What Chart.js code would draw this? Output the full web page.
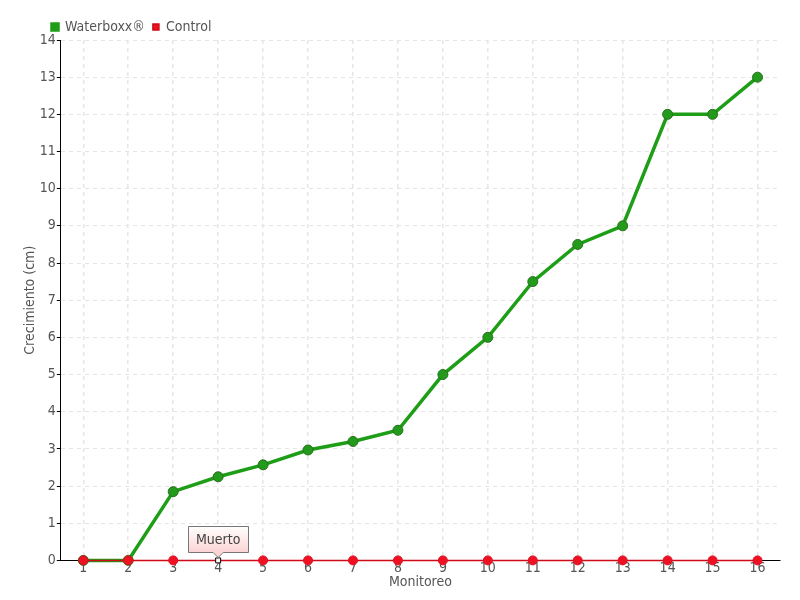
<!DOCTYPE html>
<html>
<head>
<meta charset="utf-8">
<script src="https://cdn.jsdelivr.net/npm/chart.js@4/dist/chart.umd.min.js"></script>
<style>
  html, body { margin: 0; padding: 0; background: #fff; }
  canvas { display: block; }
</style>
</head>
<body>
<canvas id="grafico" width="800" height="600"></canvas>
<script>
const monitoreos = ["1", "2", "3", "4", "5", "6", "7", "8", "9", "10", "11", "12", "13", "14", "15", "16"];
const waterboxx = [0, 0, 1.85, 2.25, 2.57, 2.97, 3.2, 3.5, 5, 6, 7.5, 8.5, 9, 12, 12, 13];
const control = [0, 0, 0, 0, 0, 0, 0, 0, 0, 0, 0, 0, 0, 0, 0, 0];
const indiceMuerto = 3;
const textoMuerto = "Muerto";

const FUENTE = "'DejaVu Sans', sans-serif";
const GRIS = "#555";

// la fuente del original es angosta: se pide la variante condensada
function fuente(tam) {
  return { family: FUENTE, size: tam, weight: "condensed" };
}

// corre la leyenda hacia la derecha, como en el original
const moverLeyenda = {
  id: "moverLeyenda",
  afterLayout(chart) {
    if (chart.legend) {
      chart.legend.left += 22;
      chart.legend.right += 22;
      chart.legend.top += 4;
      chart.legend.bottom += 4;
    }
  }
};

const etiquetaMuerto = {
  id: "etiquetaMuerto",
  afterDatasetsDraw(chart) {
    const meta = chart.getDatasetMeta(1);
    const punto = meta.data[indiceMuerto];
    if (!punto) return;
    const ctx = chart.ctx;
    ctx.save();
    ctx.font = "condensed 14px " + FUENTE;
    const ancho = 60;
    const alto = 26;
    const x = Math.round(punto.x - ancho / 2);
    const y = Math.round(punto.y - 8 - alto);

    const grad = ctx.createLinearGradient(0, y, 0, y + alto);
    grad.addColorStop(0, "#ffffff");
    grad.addColorStop(1, "#fbd4d4");
    ctx.fillStyle = grad;
    ctx.strokeStyle = "#777";
    ctx.lineWidth = 1;
    ctx.beginPath();
    ctx.moveTo(x + 0.5, y + 0.5);
    ctx.lineTo(x + ancho + 0.5, y + 0.5);
    ctx.lineTo(x + ancho + 0.5, y + alto + 0.5);
    ctx.lineTo(punto.x + 5, y + alto + 0.5);
    ctx.lineTo(punto.x, y + alto + 5.5);
    ctx.lineTo(punto.x - 5, y + alto + 0.5);
    ctx.lineTo(x + 0.5, y + alto + 0.5);
    ctx.closePath();
    ctx.fill();
    ctx.stroke();

    ctx.fillStyle = "#444";
    ctx.textAlign = "center";
    ctx.textBaseline = "middle";
    ctx.fillText(textoMuerto, punto.x, y + alto / 2 + 1);
    ctx.restore();
  }
};

const estiloPuntoControl = control.map((v, i) => (i === indiceMuerto ? "rect" : "circle"));
const rellenoControl = control.map((v, i) => (i === indiceMuerto ? "#ffffff" : "#ee1122"));
const bordeControl = control.map((v, i) => (i === indiceMuerto ? "#000000" : "#dd1122"));
const radioControl = control.map((v, i) => (i === indiceMuerto ? 3.5 : 4.5));

new Chart(document.getElementById("grafico"), {
  type: "line",
  data: {
    labels: monitoreos,
    datasets: [
      {
        label: "Waterboxx®",
        data: waterboxx,
        order: 1,
        borderColor: "#1e9e16",
        backgroundColor: "#1e9e16",
        borderWidth: 3.5,
        pointRadius: 5,
        pointHoverRadius: 5,
        pointBackgroundColor: "#229a1a",
        pointBorderColor: "#2a6e22",
        pointBorderWidth: 1,
        tension: 0,
        clip: false
      },
      {
        label: "Control",
        data: control,
        order: 0,
        borderColor: "#d00a16",
        backgroundColor: "#ee1122",
        borderWidth: 1.5,
        pointStyle: estiloPuntoControl,
        pointRadius: radioControl,
        pointHoverRadius: radioControl,
        pointBackgroundColor: rellenoControl,
        pointBorderColor: bordeControl,
        pointBorderWidth: 1,
        tension: 0,
        clip: false
      }
    ]
  },
  options: {
    responsive: false,
    animation: false,
    layout: { padding: { left: 22, right: 20, top: 8, bottom: 9 } },
    plugins: {
      tooltip: { enabled: false },
      legend: {
        align: "start",
        labels: {
          boxWidth: 6,
          boxHeight: 6,
          padding: 8,
          color: GRIS,
          font: fuente(14),
          sort: (a, b) => a.datasetIndex - b.datasetIndex
        }
      }
    },
    scales: {
      x: {
        offset: true,
        grid: {
          offset: false,
          color: "#e6e6e6",
          lineWidth: 1.5,
          drawTicks: false
        },
        border: { color: "#000", width: 1, dash: [4, 4] },
        ticks: {
          color: GRIS,
          padding: 0,
          maxRotation: 0,
          font: fuente(14)
        },
        title: {
          display: true,
          text: "Monitoreo",
          color: GRIS,
          padding: { top: -3, bottom: 0 },
          font: fuente(14)
        }
      },
      y: {
        min: 0,
        max: 14,
        ticks: {
          stepSize: 1,
          color: GRIS,
          padding: 1,
          font: fuente(14)
        },
        grid: {
          color: "#e6e6e6",
          tickColor: "#000",
          tickLength: 4
        },
        border: { color: "#000", width: 1, dash: [4, 4] },
        title: {
          display: true,
          text: "Crecimiento (cm)",
          color: GRIS,
          padding: { top: 0, bottom: 0 },
          font: fuente(14)
        }
      }
    }
  },
  plugins: [moverLeyenda, etiquetaMuerto]
});
</script>
</body>
</html>
